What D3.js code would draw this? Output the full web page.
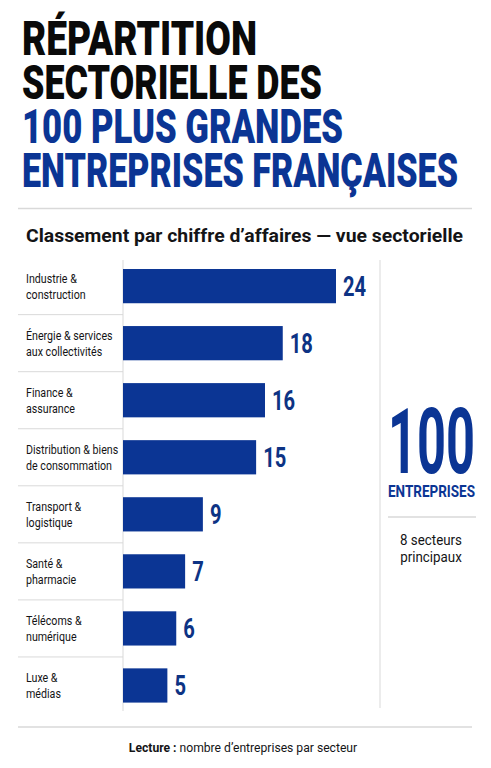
<!DOCTYPE html>
<html lang="fr">
<head>
<meta charset="utf-8">
<script src="https://cdn.jsdelivr.net/npm/d3@7"></script>
<style>
  body { margin: 0; background: #fff; }
  svg { display: block; font-family: Roboto, 'Liberation Sans', sans-serif; }
</style>
</head>
<body>
<div id="chart"></div>
<script>
// Data
const sectors = [
  'Industrie &|construction',
  'Énergie & services|aux collectivités',
  'Finance &|assurance',
  'Distribution & biens|de consommation',
  'Transport &|logistique',
  'Santé &|pharmacie',
  'Télécoms &|numérique',
  'Luxe &|médias',
];
const counts = [24, 18, 16, 15, 9, 7, 6, 5];
const titleLines = ['RÉPARTITION', 'SECTORIELLE DES', '100 PLUS GRANDES', 'ENTREPRISES FRANÇAISES'];
const subtitle = 'Classement par chiffre d’affaires — vue sectorielle';
const totalCount = '100';
const totalLabel = 'ENTREPRISES';
const totalNote = ['8 secteurs', 'principaux'];

const blue = '#0b3594';
const navy = '#0d3384';
const ink = '#141416';
const rule = '#d9d9d9';

const width = 491;
const height = 768;

const svg = d3.select('#chart').append('svg')
  .attr('width', width)
  .attr('height', height);

// Title, black first two lines then blue
const titleWidths = [235, 300, 321, 436];
svg.selectAll('text.title')
  .data(titleLines)
  .join('text')
  .attr('class', 'title')
  .attr('x', 22)
  .attr('y', (d, i) => 55 + i * 44)
  .attr('font-size', 48)
  .attr('font-weight', 900)
  .attr('fill', (d, i) => (i < 2 ? '#0a0a0a' : blue))
  .attr('textLength', (d, i) => titleWidths[i])
  .attr('lengthAdjust', 'spacingAndGlyphs')
  .text((d) => d);

svg.append('line')
  .attr('x1', 18).attr('x2', 472)
  .attr('y1', 208.5).attr('y2', 208.5)
  .attr('stroke', rule).attr('stroke-width', 1.5);

svg.append('text')
  .attr('x', 26)
  .attr('y', 242)
  .attr('font-size', 17.5)
  .attr('font-weight', 700)
  .attr('fill', ink)
  .attr('textLength', 437)
  .attr('lengthAdjust', 'spacingAndGlyphs')
  .text(subtitle);

// Bars
const margin = { top: 260, left: 123 };
const x = d3.scaleLinear().domain([0, 24]).range([0, 213]);
const y = d3.scaleBand()
  .domain(sectors)
  .range([257.6, 714])
  .paddingInner(0.4)
  .paddingOuter(0.2);

const chart = svg.append('g');

// row separators in the label column
chart.selectAll('line.sep')
  .data(sectors.slice(1))
  .join('line')
  .attr('class', 'sep')
  .attr('x1', 18).attr('x2', margin.left)
  .attr('y1', (d) => y(d) - (y.step() - y.bandwidth()) / 2)
  .attr('y2', (d) => y(d) - (y.step() - y.bandwidth()) / 2)
  .attr('stroke', rule).attr('stroke-width', 1);

// axis line and right divider
chart.append('line')
  .attr('x1', margin.left).attr('x2', margin.left)
  .attr('y1', margin.top).attr('y2', 711)
  .attr('stroke', rule).attr('stroke-width', 1);
chart.append('line')
  .attr('x1', 380).attr('x2', 380)
  .attr('y1', margin.top).attr('y2', 708)
  .attr('stroke', rule).attr('stroke-width', 1);

chart.selectAll('rect.bar')
  .data(counts)
  .join('rect')
  .attr('class', 'bar')
  .attr('x', margin.left)
  .attr('y', (d, i) => y(sectors[i]))
  .attr('width', (d) => x(d))
  .attr('height', y.bandwidth())
  .attr('fill', blue);

chart.selectAll('text.value')
  .data(counts)
  .join('text')
  .attr('class', 'value')
  .attr('transform', (d, i) => `translate(${margin.left + x(d) + 7},${y(sectors[i]) + y.bandwidth() / 2 + 10}) scale(0.72,1)`)
  .attr('font-size', 28)
  .attr('font-weight', 700)
  .attr('fill', navy)
  .text((d) => d);

const labels = chart.selectAll('g.label')
  .data(sectors)
  .join('g')
  .attr('class', 'label')
  .attr('transform', (d) => `translate(26,${y(d) + y.bandwidth() / 2}) scale(0.79,1)`);

labels.selectAll('text')
  .data((d) => d.split('|'))
  .join('text')
  .attr('y', (d, i) => (i === 0 ? -3 : 12.5))
  .attr('font-size', 13.5)
  .attr('fill', ink)
  .text((d) => d);

// Total panel on the right
const cx = 431;
svg.append('text')
  .attr('x', 388)
  .attr('y', 473)
  .attr('font-size', 90)
  .attr('font-weight', 700)
  .attr('fill', blue)
  .attr('textLength', 87)
  .attr('lengthAdjust', 'spacingAndGlyphs')
  .text(totalCount);

svg.append('text')
  .attr('x', 388)
  .attr('y', 497)
  .attr('font-size', 16)
  .attr('font-weight', 700)
  .attr('fill', blue)
  .attr('textLength', 87)
  .attr('lengthAdjust', 'spacingAndGlyphs')
  .text(totalLabel);

svg.append('line')
  .attr('x1', 388).attr('x2', 476)
  .attr('y1', 517).attr('y2', 517)
  .attr('stroke', rule).attr('stroke-width', 1.5);

svg.selectAll('text.note')
  .data(totalNote)
  .join('text')
  .attr('class', 'note')
  .attr('transform', (d, i) => `translate(${cx},${545 + i * 17}) scale(0.92,1)`)
  .attr('text-anchor', 'middle')
  .attr('font-size', 14.5)
  .attr('fill', ink)
  .text((d) => d);

// Footer
svg.append('line')
  .attr('x1', 18).attr('x2', 472)
  .attr('y1', 727).attr('y2', 727)
  .attr('stroke', rule).attr('stroke-width', 1.5);

const foot = svg.append('text')
  .attr('transform', `translate(243,752) scale(0.9,1)`)
  .attr('text-anchor', 'middle')
  .attr('font-size', 13.5)
  .attr('fill', ink);
foot.append('tspan').attr('font-weight', 700).text('Lecture : ');
foot.append('tspan').text('nombre d’entreprises par secteur');
</script>
</body>
</html>
